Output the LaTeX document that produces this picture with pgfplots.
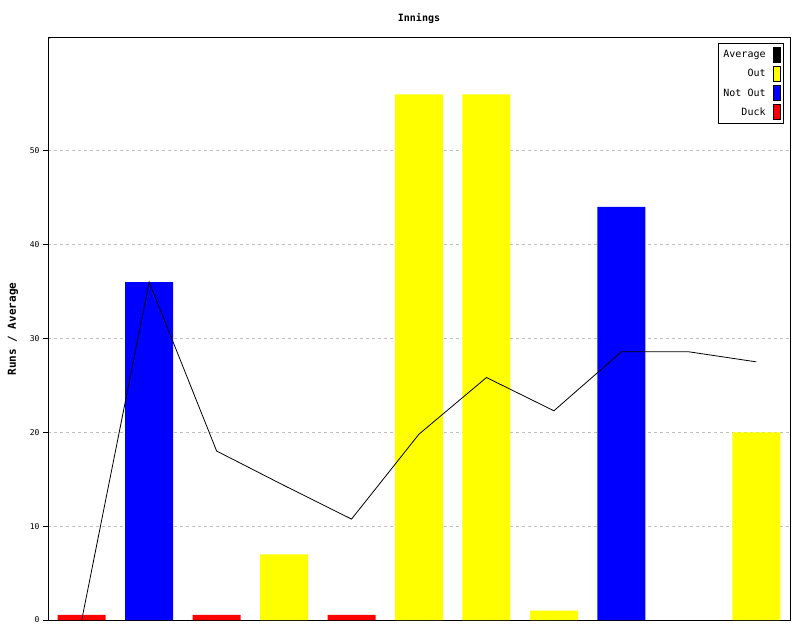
\documentclass[border=0pt]{standalone}
\usepackage{fontspec}
\setmainfont{DejaVu Sans Mono}
\setmonofont{DejaVu Sans Mono}
\usepackage{pgfplots}
\pgfplotsset{compat=1.18}
\definecolor{outc}{HTML}{FFFF00}
\definecolor{notoutc}{HTML}{0000FF}
\definecolor{duckc}{HTML}{FF0000}
\begin{document}
\begin{tikzpicture}[x=1pt,y=1pt]
\path[use as bounding box] (0,0) rectangle (800,640);
\begin{axis}[
  at={(48pt,20pt)}, anchor=south west,
  scale only axis, width=742pt, height=582pt,
  xmin=-0.5, xmax=10.5, ymin=0, ymax=62,
  xtick=\empty,
  ytick={0,10,20,30,40,50},
  ytick pos=left,
  tick align=outside, major tick length=5pt,
  ymajorgrids, grid style={dashed, gray!50, line width=0.8pt},
  axis line style={line width=1pt},
  every tick/.style={line width=1pt, black},
  tick label style={font=\fontsize{8}{9}\selectfont},
  /pgf/number format/assume math mode=true,
  title={\bfseries Innings}, title style={font=\fontsize{10}{11}\selectfont, at={(0.5,1)}, anchor=center, yshift=14pt},
  ylabel={\bfseries Runs / Average}, ylabel style={font=\fontsize{11}{12}\selectfont, at={(axis description cs:0,0.5)}, anchor=center, yshift=35pt},
  legend plot pos=right,
  legend cell align=right,
  legend style={at={(0.992,0.991)}, anchor=north east, font=\fontsize{10}{12}\selectfont, draw=black, line width=0.8pt, row sep=3.5pt, column sep=5pt, inner sep=3.5pt},
  legend image code/.code={\draw[#1, line width=0.6pt, draw=black] (0pt,-7.5pt) rectangle (7pt,7.5pt);},
]
\addlegendimage{fill=black}
\addlegendentry{Average}
\addlegendimage{fill=outc}
\addlegendentry{Out}
\addlegendimage{fill=notoutc}
\addlegendentry{Not Out}
\addlegendimage{fill=duckc}
\addlegendentry{Duck}
\addplot[ybar, bar width=48pt, bar shift=0pt, fill=outc, draw=none, forget plot] coordinates {(3,7) (5,56) (6,56) (7,1) (10,20)};
\addplot[ybar, bar width=48pt, bar shift=0pt, fill=notoutc, draw=none, forget plot] coordinates {(1,36) (8,44)};
\addplot[ybar, bar width=48pt, bar shift=0pt, fill=duckc, draw=none, forget plot] coordinates {(0,0.55) (2,0.55) (4,0.55)};
\addplot[black, line width=0.8pt, mark=none, forget plot] coordinates {(0,0) (1,36) (2,18) (3,14.33) (4,10.75) (5,19.8) (6,25.83) (7,22.29) (8,28.57) (9,28.57) (10,27.5)};
\draw[line width=1pt] (axis cs:-0.5,62) -- ++(0,5pt);
\end{axis}
\end{tikzpicture}
\end{document}
